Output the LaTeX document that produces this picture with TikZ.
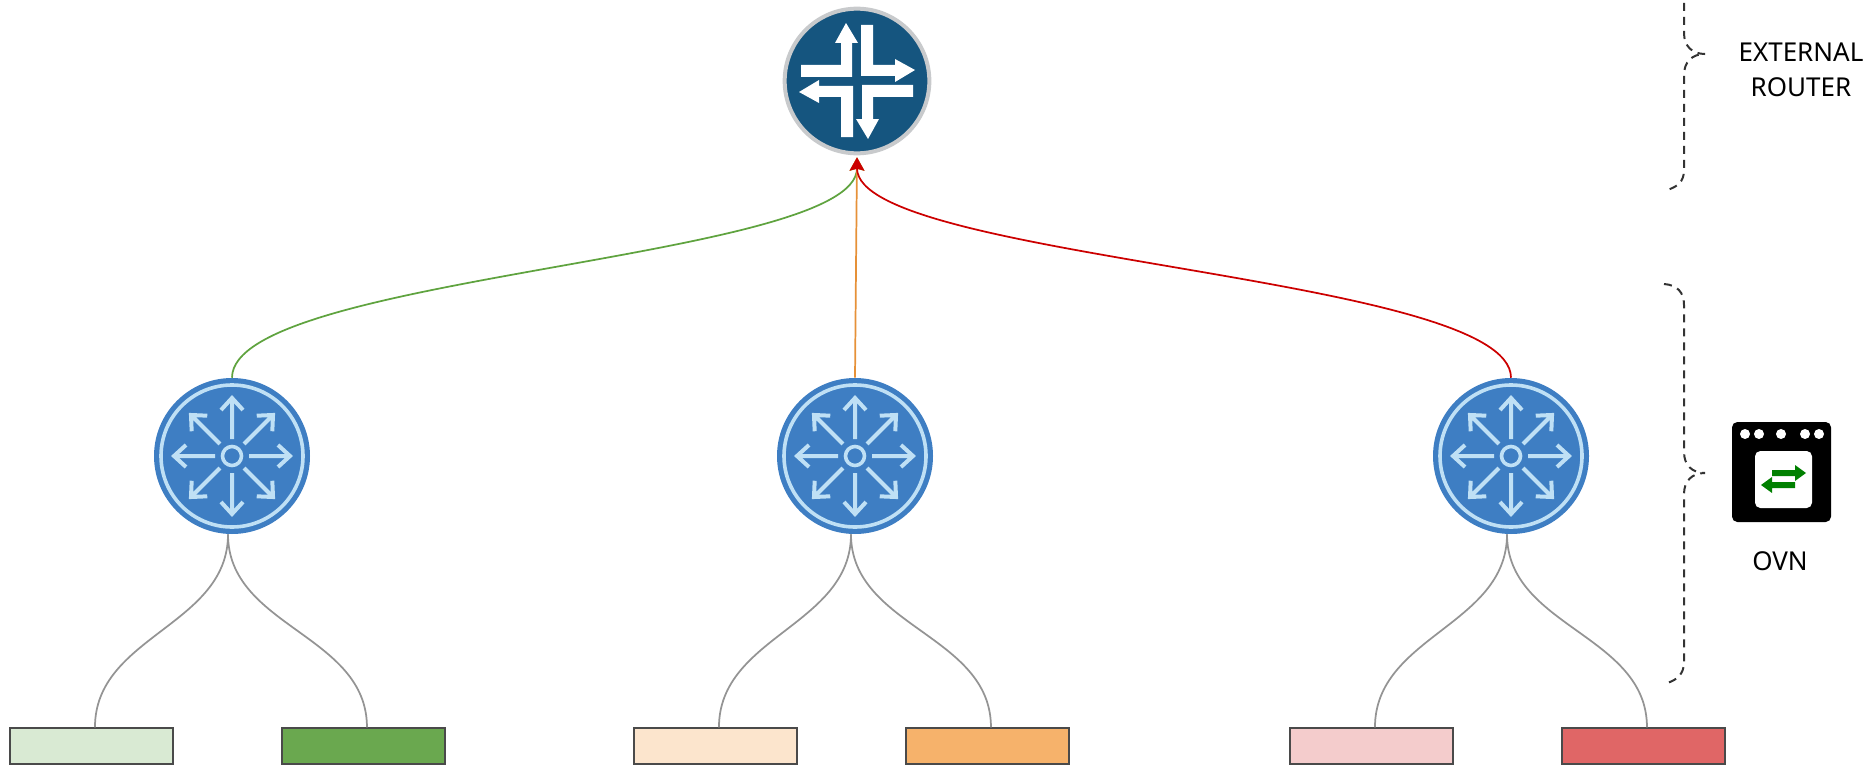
\documentclass[tikz,border=0pt]{standalone}
\usepackage{fontspec}
\setmainfont{Noto Sans}
\usetikzlibrary{arrows.meta,positioning}
\definecolor{routerblue}{HTML}{15557F}
\definecolor{routerring}{HTML}{C8CACC}
\definecolor{ovsblue}{HTML}{3E7EC3}
\definecolor{ovsline}{HTML}{BFE0F5}
\definecolor{flowgreen}{HTML}{008000}
\definecolor{leafbord}{HTML}{4A4A4A}
\definecolor{linkgreen}{HTML}{5FA33F}
\definecolor{linkorange}{HTML}{E69138}
\definecolor{linkred}{HTML}{CC0000}
\definecolor{lanlightgreen}{HTML}{D9EAD3}
\definecolor{langreen}{HTML}{6AA84F}
\definecolor{lanlightorange}{HTML}{FCE5CD}
\definecolor{lanorange}{HTML}{F6B26B}
\definecolor{lanlightred}{HTML}{F4CCCC}
\definecolor{lanred}{HTML}{E06666}
\tikzset{
    extrouter/.style={circle,draw=routerring,line width=3pt,fill=routerblue,minimum size=108.5pt,inner sep=0pt,outer sep=3pt},
    ovsrouter/.style={circle,fill=ovsblue,minimum size=117pt,inner sep=0pt},
    leafbox/.style={draw=leafbord,line width=1.5pt,minimum width=122.5pt,minimum height=26.5pt,inner sep=0pt},
    leafline/.style={draw=black!42,line width=1.3pt},
    upline/.style={line width=1.3pt,-{Stealth[length=10pt,width=11pt,inset=1.5pt]}},
    bracket/.style={draw=black!80,line width=1.5pt,dash pattern=on 6pt off 4.5pt},
    label/.style={font=\fontsize{19.5}{26}\selectfont,align=center,text=black},
    wheel/.pic={
        \draw[ovsline,line width=2.7pt] (0,0) circle (71);
        \draw[ovsline,line width=2.7pt] (0,0) circle (9.5);
        \foreach \ang in {0,45,...,315}{
            \draw[ovsline,line width=3pt,rotate=\ang] (17,0) -- (58,0) (46,-11) -- (58,0) -- (46,11);
        }
    }
}
\begin{document}
\begin{tikzpicture}[x=0.75pt,y=-0.75pt]
    \useasboundingbox (0,0) rectangle (1870,767);
    % routers
    \node[extrouter] (ext) at (857,81) {};
    \node[ovsrouter] (ovsa) at (232,456) {};
    \node[ovsrouter] (ovsb) at (855,456) {};
    \node[ovsrouter] (ovsc) at (1511,456) {};
    \foreach \ang in {0,90,180,270}{
        \fill[white,shift={(ext.center)},rotate=\ang] (-56,-16) -- (-16,-16) -- (-16,-38) -- (-22,-38) -- (-11,-58) -- (1,-38) -- (-5,-38) -- (-5,-4) -- (-56,-4) -- cycle;
    }
    \pic at (ovsa) {wheel};
    \pic at (ovsb) {wheel};
    \pic at (ovsc) {wheel};
    % leaf boxes
    \node[leafbox,fill=lanlightgreen] (lana) at (91.5,746) {};
    \node[leafbox,fill=langreen] (lanb) at (363.5,746) {};
    \node[leafbox,fill=lanlightorange] (lanc) at (715.5,746) {};
    \node[leafbox,fill=lanorange] (land) at (987.5,746) {};
    \node[leafbox,fill=lanlightred] (lane) at (1371.5,746) {};
    \node[leafbox,fill=lanred] (lanf) at (1643.5,746) {};
    % up links
    \draw[upline,color=linkgreen] (ovsa.north) .. controls +(0,-103) and +(0,103) .. (ext.south);
    \draw[upline,color=linkorange] (ovsb.north) -- (ext.south);
    \draw[upline,color=linkred] (ovsc.north) .. controls +(0,-103) and +(0,103) .. (ext.south);
    % lan links
    \foreach \ovs/\lft/\rgt in {ovsa/lana/lanb,ovsb/lanc/land,ovsc/lane/lanf}{
        \draw[leafline] ([xshift=-3pt]\ovs.south) to[out=-90,in=90] ([xshift=2.6pt]\lft.north);
        \draw[leafline] ([xshift=-3pt]\ovs.south) to[out=-90,in=90] ([xshift=2.6pt]\rgt.north);
    }
    % brackets
    \draw[bracket] (1684,3) -- (1684,33) .. controls (1684,46) and (1692,54) .. (1705,54) .. controls (1692,54) and (1684,62) .. (1684,75) -- (1684,170) .. controls (1684,182) and (1677,187) .. (1667,190);
    \draw[bracket] (1664,284) .. controls (1677,285) and (1684,292) .. (1684,305) -- (1684,452) .. controls (1684,465) and (1692,473) .. (1705,473) .. controls (1692,473) and (1684,481) .. (1684,494) -- (1684,662) .. controls (1684,674) and (1677,680) .. (1667,683);
    % ovn icon
    \fill[black,rounded corners=4pt] (1732,422) rectangle (1831,522);
    \fill[white,rounded corners=4pt] (1755,451) rectangle (1812,508);
    \foreach \px in {1745,1759,1781,1805,1819}{
        \fill[white] (\px,434) circle (5);
    }
    \fill[flowgreen] (1772,470) -- (1795,470) -- (1795,465) -- (1806,473) -- (1795,481) -- (1795,476) -- (1772,476) -- cycle;
    \fill[flowgreen] (1795,482) -- (1772,482) -- (1772,477) -- (1761,485) -- (1772,493) -- (1772,488) -- (1795,488) -- cycle;
    % labels
    \node[label] (extlabel) at (1801,70) {EXTERNAL\\ROUTER};
    \node[label] (ovnlabel) at (1780,561) {OVN};
\end{tikzpicture}
\end{document}
